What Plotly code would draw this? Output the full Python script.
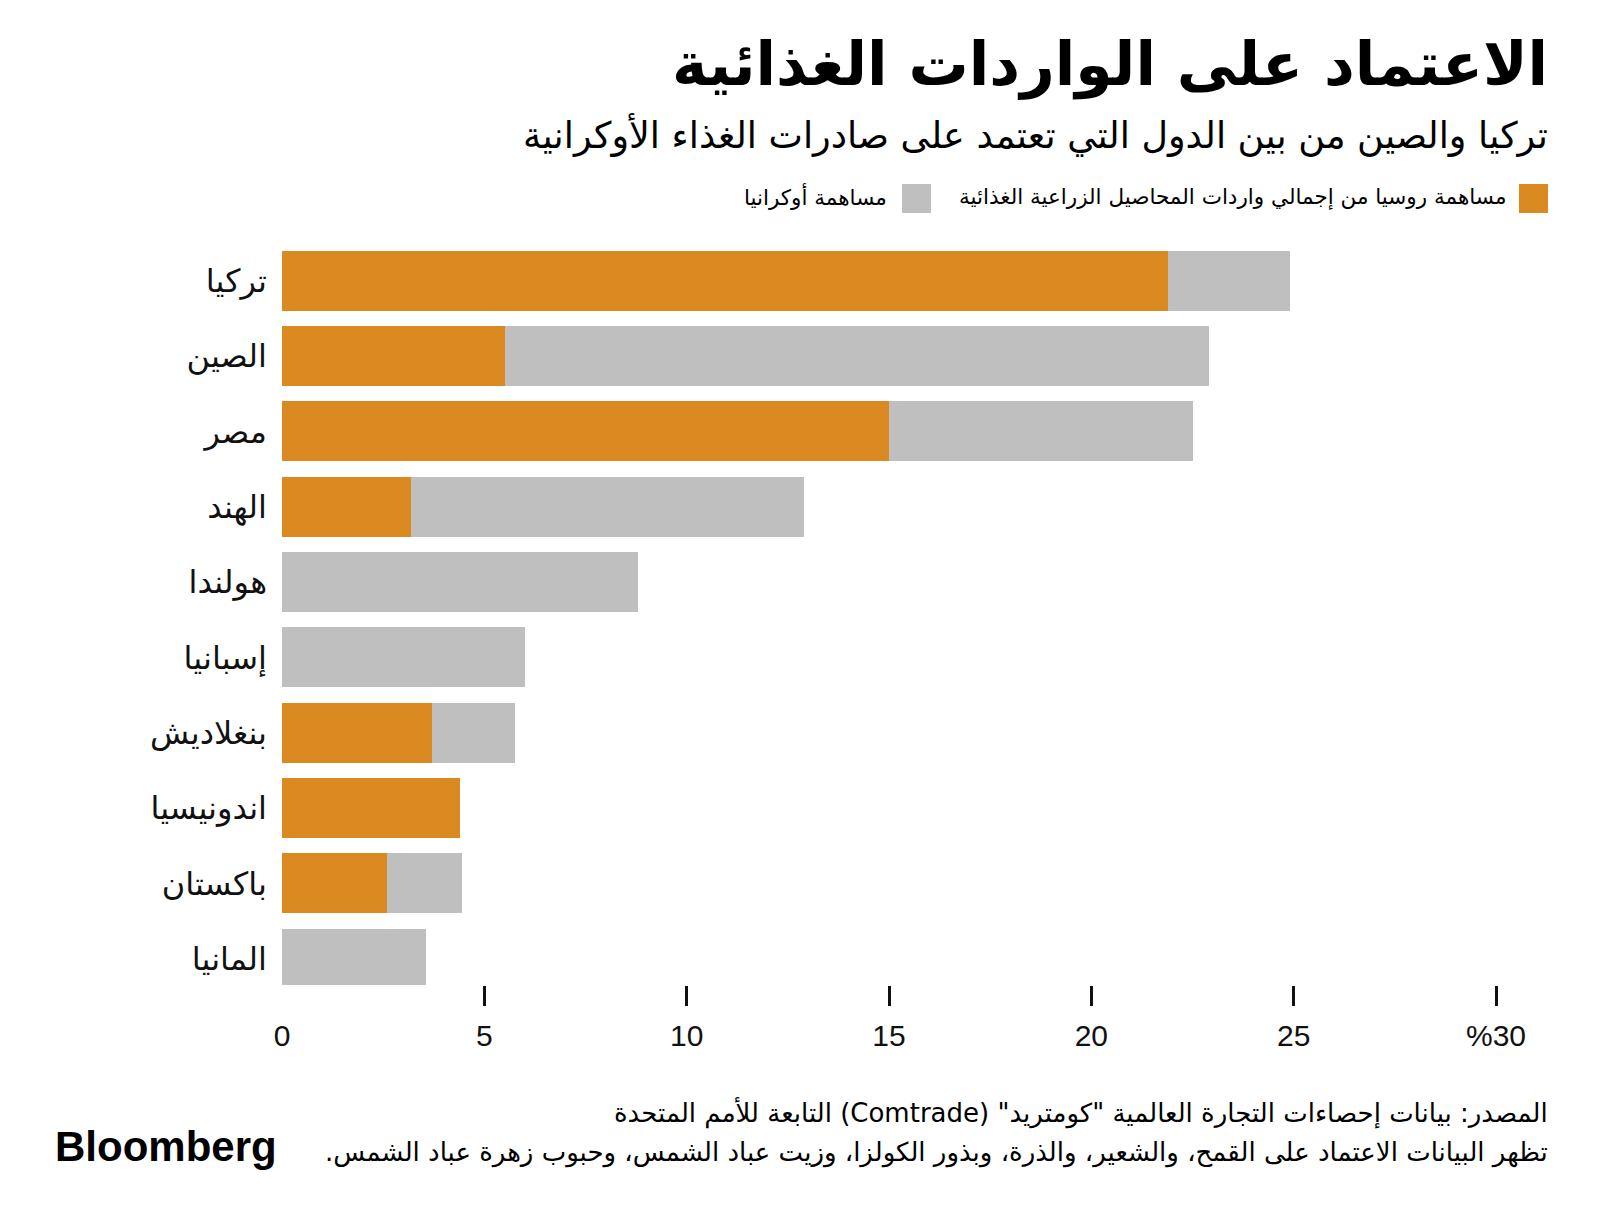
import plotly.graph_objects as go

# ---------------- data ----------------
countries = ["تركيا", "الصين", "مصر", "الهند", "هولندا", "إسبانيا", "بنغلاديش", "اندونيسيا", "باكستان", "المانيا"]
russia_share = [21.9, 5.5, 15.0, 3.2, 0.0, 0.0, 3.7, 4.4, 2.6, 0.0]
ukraine_share = [3.0, 17.4, 7.5, 9.7, 8.8, 6.0, 2.05, 0.0, 1.85, 3.55]
tick_vals = [0, 5, 10, 15, 20, 25, 30]
tick_text = ["0", "5", "10", "15", "20", "25", "%30"]

series_names = ["مساهمة روسيا من إجمالي واردات المحاصيل الزراعية الغذائية", "مساهمة أوكرانيا"]
title_text = "الاعتماد على الواردات الغذائية"
subtitle_text = "تركيا والصين من بين الدول التي تعتمد على صادرات الغذاء الأوكرانية"
source_text = "المصدر: بيانات إحصاءات التجارة العالمية \"كومتريد\" (Comtrade) التابعة للأمم المتحدة"
note_text = "تظهر البيانات الاعتماد على القمح، والشعير، والذرة، وبذور الكولزا، وزيت عباد الشمس، وحبوب زهرة عباد الشمس."

# ---------------- style ----------------
ORANGE = "#DB8A22"
GRAY = "#BFBFBF"
OFF = 8  # default body margin of the html page
W, H = 1600 - 2 * OFF, 1225 - 2 * OFF
ML, MR, MT, MB = 282 - OFF, W - (1496 - OFF), 243 - OFF, H - (985 - OFF)
AR_FONT = "DejaVu Sans"
NUM_FONT = "Liberation Sans, Arial, sans-serif"
RIGHT = 1550

def rtl(s):
    return "\u202B" + s + "\u202C"

def px_x(x):  # page pixel -> paper
    return (x - OFF - ML) / (W - ML - MR)

def px_y(y):
    return (H - MB - (y - OFF)) / (H - MT - MB)

fig = go.Figure()
fig.add_trace(go.Bar(y=countries, x=russia_share, orientation="h", marker_color=ORANGE,
                     marker_line_width=0, name=series_names[0], hoverinfo="x+y"))
fig.add_trace(go.Bar(y=countries, x=ukraine_share, orientation="h", marker_color=GRAY,
                     marker_line_width=0, name=series_names[1], hoverinfo="x+y"))
# invisible helper trace so the label-only axis is drawn
fig.add_trace(go.Scatter(x=[0], y=[countries[0]], xaxis="x2", mode="markers",
                         marker=dict(opacity=0), hoverinfo="skip", showlegend=False))

fig.update_layout(
    width=W, height=H,
    margin=dict(l=ML, r=MR, t=MT, b=MB),
    paper_bgcolor="white", plot_bgcolor="white",
    barmode="stack", bargap=0.2, showlegend=False,
    xaxis=dict(range=[0, 30], tickvals=tick_vals[1:], showticklabels=False,
               ticks="outside", ticklen=20, tickwidth=2.5, tickcolor="#111111",
               showgrid=False, zeroline=False, showline=False, fixedrange=True),
    xaxis2=dict(overlaying="x", matches="x", anchor="y", side="bottom",
                tickvals=tick_vals, ticktext=tick_text,
                ticks="outside", ticklen=24, tickcolor="rgba(0,0,0,0)",
                tickfont=dict(family=NUM_FONT, size=30, color="#111111"),
                showgrid=False, zeroline=False, showline=False),
    yaxis=dict(type="category", categoryorder="array", categoryarray=countries,
               range=[9.35, -0.5], showgrid=False, zeroline=False, showline=False,
               ticks="", ticklabelstandoff=14,
               tickfont=dict(family=AR_FONT, size=32, color="#111111")),
)

ann = []
ann.append(dict(text=rtl(title_text), x=px_x(RIGHT), y=px_y(65), xref="paper", yref="paper",
                xanchor="right", yanchor="middle", showarrow=False,
                font=dict(family=AR_FONT, size=60, color="#000000", weight="bold")))
ann.append(dict(text=rtl(subtitle_text), x=px_x(RIGHT), y=px_y(135), xref="paper", yref="paper",
                xanchor="right", yanchor="middle", showarrow=False,
                font=dict(family=AR_FONT, size=36.5, color="#000000")))
# legend
ann.append(dict(text=rtl(series_names[0]), x=px_x(1508), y=px_y(197), xref="paper", yref="paper",
                xanchor="right", yanchor="middle", showarrow=False,
                font=dict(family=AR_FONT, size=21.5, color="#000000")))
ann.append(dict(text=rtl(series_names[1]), x=px_x(889), y=px_y(197), xref="paper", yref="paper",
                xanchor="right", yanchor="middle", showarrow=False,
                font=dict(family=AR_FONT, size=21.5, color="#000000")))
# footer
ann.append(dict(text=rtl(source_text), x=px_x(RIGHT), y=px_y(1112), xref="paper", yref="paper",
                xanchor="right", yanchor="middle", showarrow=False,
                font=dict(family=AR_FONT, size=26, color="#000000")))
ann.append(dict(text=rtl(note_text), x=px_x(RIGHT), y=px_y(1152), xref="paper", yref="paper",
                xanchor="right", yanchor="middle", showarrow=False,
                font=dict(family=AR_FONT, size=26, color="#000000")))
ann.append(dict(text="<b>Bloomberg</b>", x=px_x(53), y=px_y(1146), xref="paper", yref="paper",
                xanchor="left", yanchor="middle", showarrow=False,
                font=dict(family="Liberation Sans, Arial, sans-serif", size=42, color="#000000")))
fig.update_layout(annotations=ann)

shapes = [
    dict(type="rect", xref="paper", yref="paper", x0=px_x(1519), x1=px_x(1548),
         y0=px_y(213), y1=px_y(184), fillcolor=ORANGE, line=dict(width=0)),
    dict(type="rect", xref="paper", yref="paper", x0=px_x(902), x1=px_x(931),
         y0=px_y(213), y1=px_y(184), fillcolor=GRAY, line=dict(width=0)),
]
fig.update_layout(shapes=shapes)

fig.write_html("out.html")
